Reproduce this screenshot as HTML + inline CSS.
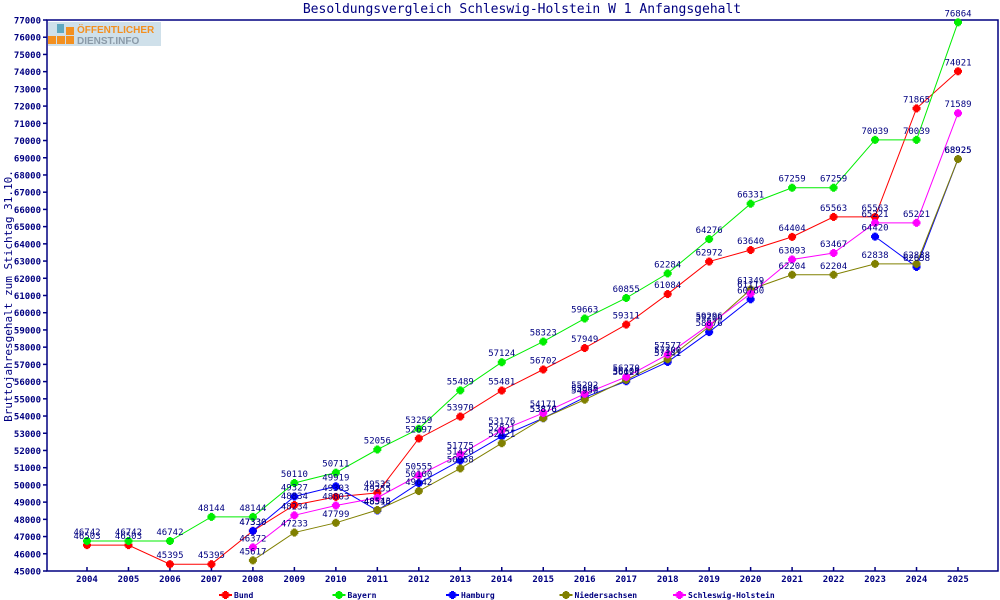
<!DOCTYPE html>
<html><head><meta charset="utf-8"><style>
body{margin:0;background:#fff;}
svg{display:block;font-family:"DejaVu Sans Mono","Liberation Mono",monospace;}
</style></head><body>
<svg id="chart" width="1000" height="600" viewBox="0 0 1000 600" xmlns="http://www.w3.org/2000/svg">
<text x="522" y="13" text-anchor="middle" font-size="13" fill="#000080">Besoldungsvergleich Schleswig-Holstein W 1 Anfangsgehalt</text>
<g>
<rect x="48" y="22" width="113" height="24" fill="#cfe0ea"/>
<rect x="48" y="36" width="8" height="8" fill="#f39020"/><rect x="57" y="36" width="8" height="8" fill="#f39020"/><rect x="66" y="36" width="8" height="8" fill="#f39020"/><rect x="66" y="27" width="8" height="8" fill="#f39020"/><rect x="57" y="24" width="7" height="9" fill="#5fa8c0"/>
<text x="77" y="33" font-size="10" font-weight="bold" fill="#f39020" font-family="Liberation Sans, sans-serif">ÖFFENTLICHER</text>
<text x="77" y="44" font-size="10" font-weight="bold" fill="#8a9aa8" font-family="Liberation Sans, sans-serif">DIENST.INFO</text>
</g>
<text transform="translate(12,296) rotate(-90)" text-anchor="middle" font-size="11" fill="#000080">Bruttojahresgehalt zum Stichtag 31.10.</text>
<g id="axes"></g><g id="series"></g><g id="labels"></g><g id="legend"></g>
</svg>
<script>
const years = [2004,2005,2006,2007,2008,2009,2010,2011,2012,2013,2014,2015,2016,2017,2018,2019,2020,2021,2022,2023,2024,2025];
const bund = [46503,46503,45395,45395,47330,48834,49303,49535,52697,53970,55481,56702,57949,59311,61084,62972,63640,64404,65563,65563,71865,74021];
const bayern = [46742,46742,46742,48144,48144,50110,50711,52056,53259,55489,57124,58323,59663,60855,62284,64276,66331,67259,67259,70039,70039,76864];
const hamburg = [null,null,null,null,47330,49327,49919,48516,50100,51420,52821,53876,55089,56021,57141,58876,60780,null,null,64420,62658,68925];
const niedersachsen = [null,null,null,null,45617,47233,47799,48543,49642,50958,52421,53876,54950,56100,57300,59200,61349,62204,62204,62838,62838,68925];
const schleswig = [null,null,null,null,46372,48234,48803,49255,50555,51775,53176,54171,55292,56270,57577,59296,61111,63093,63467,65221,65221,71589];
const yTicks = [45000,46000,47000,48000,49000,50000,51000,52000,53000,54000,55000,56000,57000,58000,59000,60000,61000,62000,63000,64000,65000,66000,67000,68000,69000,70000,71000,72000,73000,74000,75000,76000,77000];
const seriesNames = ["Bund","Bayern","Hamburg","Niedersachsen","Schleswig-Holstein"];
const seriesData = [bund,bayern,hamburg,niedersachsen,schleswig];
const colors = ["#ff0000","#00ee00","#0000ff","#808000","#ff00ff"];
const NS="http://www.w3.org/2000/svg";
const L=47,R=998,T=20,B=571,yMin=45000,yMax=77000;
const x=i=>87+i*(958-87)/(years.length-1);
const y=v=>B-(v-yMin)*(B-T)/(yMax-yMin);
function mk(tag,attrs,parent,txt){const e=document.createElementNS(NS,tag);for(const k in attrs)e.setAttribute(k,attrs[k]);if(txt!==undefined)e.textContent=txt;parent.appendChild(e);return e;}
const ax=document.getElementById('axes');
const frame=mk('rect',{x:L,y:T,width:R-L,height:B-T,fill:'none',stroke:'#000080','stroke-width':1.5},ax);


yTicks.forEach(v=>{
  const tk=mk('line',{x1:L-4,x2:L,y1:y(v),y2:y(v),stroke:'#000080','stroke-width':1.5},ax);
  
  
  const t=mk('text',{x:41,y:y(v)+3.5,'text-anchor':'end','font-size':9,'font-weight':'bold',fill:'#000080'},ax,String(v));
  
  
});
years.forEach((yr,i)=>{
  const tk=mk('line',{x1:x(i),x2:x(i),y1:B-4,y2:B,stroke:'#000080','stroke-width':1.5},ax);
  
  
  const t=mk('text',{x:x(i),y:582,'text-anchor':'middle','font-size':9,'font-weight':'bold',fill:'#000080'},ax,String(yr));
  
  
});
const sg=document.getElementById('series'),lg=document.getElementById('labels');
function marker(cx,cy,c,parent){
  const g=mk('g',{},parent);
  mk('rect',{x:cx-3,y:cy-3,width:6,height:6,fill:c},g);
  mk('rect',{x:cx-4,y:cy-1.5,width:8,height:3,fill:c},g);
  mk('rect',{x:cx-1.5,y:cy-4,width:3,height:8,fill:c},g);
  return g;
}
seriesData.forEach((d,s)=>{
  const g=mk('g',{},sg);
  
  
  let path='',pen=false;
  d.forEach((v,i)=>{ if(v===null){pen=false;return;} path+=(pen?'L':'M')+x(i)+' '+y(v)+' '; pen=true;});
  mk('path',{d:path,fill:'none',stroke:colors[s],'stroke-width':1},g);
  d.forEach((v,i)=>{
    if(v===null)return;
    const m=marker(x(i),y(v),colors[s],g);
    
    
    const t=mk('text',{x:x(i),y:y(v)-6,'text-anchor':'middle','font-size':9,fill:'#000080'},lg,String(v));
    
    
  });
});
const leg=document.getElementById('legend');
seriesNames.forEach((n,s)=>{
  const lx=219+s*113.5;
  const g=mk('g',{},leg);
  
  
  mk('line',{x1:lx,x2:lx+13,y1:595,y2:595,stroke:colors[s],'stroke-width':2},g);
  marker(lx+6.5,595,colors[s],g);
  mk('text',{x:lx+15,y:598,'font-size':8,'font-weight':'bold',fill:'#000080'},g,n);
});
</script>
</body></html>
